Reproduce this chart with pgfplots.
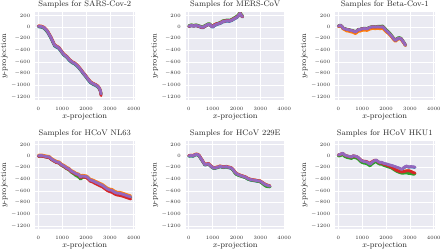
\documentclass[border=0pt]{standalone}
\usepackage{pgfplots}
\usepackage{pgfplotstable}
\pgfplotsset{compat=1.18}
\definecolor{bgc}{HTML}{EAEAF2}
\definecolor{txt}{HTML}{262626}
\definecolor{cA}{HTML}{1F77B4}
\definecolor{cB}{HTML}{FF7F0E}
\definecolor{cC}{HTML}{2CA02C}
\definecolor{cD}{HTML}{D62728}
\definecolor{cE}{HTML}{9467BD}

\pgfplotstableread{
x b o g r p
0 5 20 10 18 15
120 -2 16 4 14 10
240 -22 -4 -16 -6 -10
380 -85 -64 -76 -66 -70
450 -135 -114 -126 -116 -120
520 -185 -164 -176 -166 -170
600 -255 -234 -246 -236 -240
680 -325 -304 -316 -306 -310
760 -345 -324 -336 -326 -330
860 -368 -349 -361 -351 -355
960 -424 -404 -416 -406 -410
1070 -484 -464 -476 -466 -470
1140 -503 -484 -496 -486 -490
1210 -528 -509 -521 -511 -515
1300 -574 -554 -566 -556 -560
1420 -613 -594 -606 -596 -600
1520 -633 -614 -626 -616 -620
1630 -674 -654 -666 -656 -660
1700 -704 -684 -696 -686 -690
1770 -738 -719 -731 -721 -725
1870 -794 -774 -786 -776 -780
1970 -843 -824 -836 -826 -830
2080 -904 -884 -896 -886 -890
2180 -953 -934 -946 -936 -940
2250 -973 -954 -966 -956 -960
2320 -988 -969 -981 -971 -975
2400 -1003 -984 -996 -986 -990
2490 -1028 -1009 -1021 -1011 -1015
2560 -1063 -1044 -1056 -1050 -1050
2600 -1102 -1084 -1096 -1100 -1090
2630 -1155 -1140 -1150 -1175 -1145
}\tabSARS

\pgfplotstableread{
x b o g r p
0 7 19 23 11 15
100 22 34 38 26 30
200 14 26 30 18 22
310 22 34 38 26 30
380 12 24 28 16 20
450 4 16 20 8 12
520 -8 4 8 -4 0
590 -13 -1 3 -9 -5
660 7 19 23 11 15
730 22 34 38 26 30
800 37 49 55 41 45
870 40 52 58 44 48
940 12 24 30 20 20
1000 -3 9 13 10 5
1070 22 34 38 40 30
1140 37 49 53 55 45
1250 52 64 70 62 60
1350 67 79 88 79 75
1420 87 99 108 99 95
1490 92 104 112 104 100
1600 102 114 122 114 110
1700 97 109 118 109 105
1800 112 124 132 124 120
1900 137 149 158 149 145
1970 152 164 175 164 160
2040 172 184 195 184 180
2100 202 214 225 214 210
2150 227 239 248 239 235
2200 192 204 215 200 200
2250 172 180 190 175 180
}\tabMERS

\pgfplotstableread{
x b o g r p
0 10 8 20 15 15
85 25 22 35 30 30
150 5 0 15 10 10
200 -25 -32 -15 -20 -20
270 -35 -45 -25 -30 -30
340 -45 -65 -35 -40 -40
420 -50 -70 -40 -45 -45
500 -60 -80 -50 -55 -55
560 -65 -85 -55 -60 -60
640 -75 -95 -65 -70 -70
720 -90 -112 -80 -85 -85
780 -70 -92 -60 -65 -65
850 -45 -68 -35 -40 -40
900 -50 -72 -40 -45 -45
980 -35 -58 -25 -30 -30
1100 -30 -52 -20 -25 -25
1200 -35 -58 -25 -30 -30
1300 -15 -38 -5 -10 -10
1380 -5 -28 5 0 0
1450 0 -22 10 5 5
1550 -5 -28 5 0 0
1650 0 -22 12 5 5
1750 -5 -28 12 0 0
1860 0 -22 18 5 5
1940 -35 -55 -15 -30 -30
2000 -65 -80 -45 -60 -60
2100 -100 -112 -80 -95 -95
2200 -145 -155 -125 -140 -140
2300 -195 -205 -180 -190 -190
2390 -235 -245 -222 -230 -230
2450 -215 -225 -200 -210 -210
2500 -200 -208 -185 -195 -195
2560 -195 -202 -180 -190 -190
2630 -205 -212 -192 -200 -200
2700 -245 -250 -232 -240 -240
2760 -280 -285 -268 -275 -275
2810 -315 -318 -305 -310 -310
}\tabBETA

\pgfplotstableread{
x b o g r p
0 0 15 -3 -5 5
120 5 20 2 0 10
240 -5 10 -8 -10 0
350 -15 0 -18 -20 -10
450 -20 -5 -23 -25 -15
550 -55 -40 -58 -60 -50
650 -80 -65 -83 -85 -75
760 -105 -90 -110 -110 -100
870 -115 -100 -120 -120 -110
980 -155 -140 -162 -160 -150
1080 -175 -160 -185 -180 -170
1180 -205 -190 -215 -210 -200
1280 -225 -210 -235 -230 -220
1390 -265 -250 -280 -270 -260
1490 -285 -270 -305 -290 -280
1560 -305 -290 -330 -310 -300
1630 -315 -300 -345 -320 -310
1700 -325 -310 -365 -330 -320
1770 -365 -348 -395 -372 -360
1840 -345 -328 -370 -355 -340
1910 -350 -333 -360 -362 -345
2000 -355 -338 -362 -368 -350
2080 -375 -358 -380 -390 -370
2170 -415 -398 -420 -430 -410
2260 -425 -405 -430 -442 -420
2360 -445 -425 -450 -465 -440
2470 -465 -445 -470 -488 -460
2570 -485 -465 -490 -508 -480
2680 -505 -485 -510 -528 -500
2780 -535 -515 -540 -558 -530
2880 -565 -545 -570 -588 -560
2990 -585 -565 -590 -610 -580
3090 -595 -572 -600 -622 -590
3200 -625 -602 -630 -652 -620
3300 -640 -618 -645 -668 -635
3410 -645 -622 -650 -675 -640
3510 -655 -632 -660 -685 -650
3620 -670 -648 -675 -700 -665
3720 -685 -662 -690 -715 -680
3800 -695 -672 -700 -725 -690
3870 -705 -682 -710 -735 -700
}\tabNL

\pgfplotstableread{
x b o g r p
0 -3 10 -1 8 5
90 2 15 4 13 10
180 -3 10 -1 8 5
260 17 30 19 28 25
320 22 35 24 33 30
380 17 30 19 28 25
430 2 15 4 13 10
490 -38 -25 -36 -27 -30
540 -68 -55 -66 -57 -60
600 -108 -95 -106 -97 -100
670 -153 -140 -151 -142 -145
750 -148 -135 -146 -137 -140
820 -138 -125 -136 -127 -130
880 -163 -150 -161 -152 -155
950 -188 -175 -186 -177 -180
1020 -208 -195 -206 -197 -200
1090 -213 -200 -211 -202 -205
1150 -203 -190 -201 -192 -195
1220 -198 -185 -196 -187 -190
1300 -183 -170 -181 -172 -175
1370 -188 -175 -186 -177 -180
1430 -198 -185 -196 -187 -190
1500 -193 -180 -191 -182 -185
1570 -188 -175 -186 -177 -180
1640 -198 -185 -196 -187 -190
1710 -203 -190 -201 -192 -195
1780 -213 -200 -211 -202 -205
1850 -238 -225 -240 -227 -230
1920 -278 -265 -285 -267 -270
1990 -308 -295 -315 -297 -300
2060 -323 -310 -328 -312 -315
2150 -338 -325 -340 -327 -330
2260 -353 -340 -355 -342 -345
2370 -368 -355 -370 -357 -360
2470 -393 -380 -395 -382 -385
2570 -410 -395 -408 -397 -400
2680 -420 -405 -418 -407 -410
2780 -425 -410 -423 -412 -415
2890 -435 -420 -433 -422 -425
2990 -440 -425 -440 -427 -430
3100 -468 -455 -478 -457 -460
3170 -488 -475 -500 -477 -480
3240 -505 -490 -520 -492 -495
3320 -512 -500 -525 -502 -505
3400 -522 -510 -528 -512 -515
}\tabTWO

\pgfplotstableread{
x b o g r p
0 15 20 0 18 20
90 25 30 8 28 30
180 45 48 28 48 50
260 15 18 -5 18 20
350 0 2 -22 2 5
450 -10 -8 -32 -8 -5
550 -20 -18 -42 -18 -15
620 0 2 -20 2 5
700 -5 -3 -28 -3 0
780 -15 -13 -38 -13 -10
850 -35 -33 -58 -33 -30
920 -65 -63 -88 -60 -60
980 -85 -83 -108 -78 -80
1080 -100 -98 -122 -88 -95
1180 -105 -103 -128 -92 -100
1260 -125 -123 -150 -110 -120
1330 -145 -143 -168 -130 -140
1400 -115 -113 -140 -100 -110
1470 -95 -93 -118 -82 -90
1530 -80 -78 -102 -70 -75
1600 -75 -75 -100 -72 -70
1670 -100 -100 -125 -100 -95
1740 -115 -115 -140 -118 -110
1810 -110 -112 -138 -118 -105
1900 -130 -135 -160 -140 -125
2020 -140 -150 -175 -155 -135
2130 -155 -170 -190 -172 -150
2230 -165 -188 -205 -192 -160
2340 -180 -218 -235 -220 -175
2440 -195 -242 -260 -245 -190
2550 -210 -258 -280 -262 -205
2650 -235 -268 -292 -272 -230
2750 -200 -262 -292 -265 -195
2850 -175 -252 -288 -255 -170
2950 -190 -250 -298 -250 -185
3050 -185 -265 -302 -265 -180
3150 -190 -288 -312 -285 -185
3210 -195 -305 -305 -290 -190
}\tabHKU

\pgfplotsset{
  every axis title/.style={at={(axis description cs:0.5,1.063)}, anchor=base,
    font=\fontsize{8}{9}\selectfont, text=txt},
  every axis x label/.style={at={(axis description cs:0.5,-0.206)}, anchor=base,
    font=\fontsize{8}{9}\selectfont, text=txt},
  every axis y label/.style={at={(axis description cs:-0.291,0.5)}, rotate=90, anchor=base,
    font=\fontsize{8}{9}\selectfont, text=txt},
  panel/.style={
    scale only axis, width=99.5pt, height=87.5pt,
    xmin=-140, xmax=4030, ymin=-1250, ymax=250,
    xtick={0,1000,2000,3000,4000},
    ytick={-1200,-1000,-800,-600,-400,-200,0,200},
    scaled ticks=false,
    /pgf/number format/1000 sep={},
    axis background/.style={fill=bgc},
    grid=major, major grid style={white, line width=0.8pt},
    axis line style={draw=none}, major tick length=0pt,
    tick label style={font=\fontsize{5}{6}\selectfont, text=txt},
    xticklabel style={yshift=-3.5pt},
    yticklabel style={xshift=-1.3pt},
    xlabel={$x$-projection}, ylabel={$y$-projection},
  },
  ser/.style={no markers, line width=2.8pt, line join=round, line cap=round},
}
\newcommand{\fiveseries}[1]{%
  \addplot[ser, cA] table[x=x,y=b]{#1};
  \addplot[ser, cB] table[x=x,y=o]{#1};
  \addplot[ser, cC] table[x=x,y=g]{#1};
  \addplot[ser, cD] table[x=x,y=r]{#1};
  \addplot[ser, cE] table[x=x,y=p]{#1};
}

\begin{document}
\begin{tikzpicture}
\useasboundingbox (0,0) rectangle (440pt,249pt);
\begin{axis}[panel, at={(35pt,149pt)}, anchor=south west, title={Samples for SARS-Cov-2}]
\fiveseries{\tabSARS}
\end{axis}
\begin{axis}[panel, at={(185.5pt,149pt)}, anchor=south west, title={Samples for MERS-CoV}]
\fiveseries{\tabMERS}
\end{axis}
\begin{axis}[panel, at={(335pt,149pt)}, anchor=south west, title={Samples for Beta-Cov-1}]
\fiveseries{\tabBETA}
\end{axis}
\begin{axis}[panel, at={(35pt,20pt)}, anchor=south west, title={Samples for HCoV NL63}]
\fiveseries{\tabNL}
\end{axis}
\begin{axis}[panel, at={(185.5pt,20pt)}, anchor=south west, title={Samples for HCoV 229E}]
\fiveseries{\tabTWO}
\end{axis}
\begin{axis}[panel, at={(335pt,20pt)}, anchor=south west, title={Samples for HCoV HKU1}]
\fiveseries{\tabHKU}
\end{axis}
\end{tikzpicture}
\end{document}
